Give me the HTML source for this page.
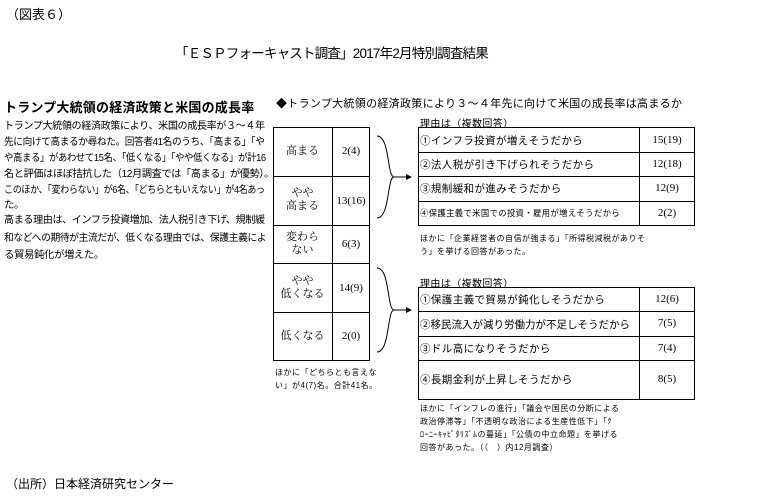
<!DOCTYPE html>
<html><head><meta charset="utf-8"><style>
*{margin:0;padding:0;box-sizing:border-box}
body{width:774px;height:502px;background:#fff;position:relative;overflow:hidden;font-family:"Liberation Sans","Noto Sans CJK JP",sans-serif;color:#000}
.a{position:absolute;white-space:nowrap}
.b{position:absolute;border:1px solid #000}
.h{position:absolute;border-top:1px solid #000}
.v{position:absolute;border-left:1px solid #000}
.c{position:absolute;text-align:center;font-size:11px;line-height:13px;font-family:"Liberation Serif","Noto Serif CJK SC",serif}
.t{position:absolute;font-size:10.5px;letter-spacing:.4px;white-space:nowrap}
.s{position:absolute;font-size:8px;line-height:13px;white-space:nowrap;letter-spacing:.5px}
.p{position:absolute;left:4px;font-size:10.4px;letter-spacing:-.4px;white-space:nowrap;transform-origin:0 0}
</style></head><body>
<div class="a" style="left:6px;top:4px;font-size:13px">（図表６）</div>
<div class="a" style="left:175px;top:42px;font-size:13.5px;letter-spacing:-.8px">「ＥＳＰフォーキャスト調査」2017年2月特別調査結果</div>
<div class="a" style="left:4px;top:97px;font-size:13px;font-weight:bold;letter-spacing:.2px">トランプ大統領の経済政策と米国の成長率</div>
<div class="p" style="top:117px;transform:scaleX(.97)">トランプ大統領の経済政策により、米国の成長率が３～４年</div>
<div class="p" style="top:133px;transform:scaleX(.93)">先に向けて高まるか尋ねた。回答者41名のうち、「高まる」「や</div>
<div class="p" style="top:149px;transform:scaleX(.9)">や高まる」があわせて15名、「低くなる」「やや低くなる」が計16</div>
<div class="p" style="top:165px;transform:scaleX(.98)">名と評価はほぼ拮抗した（12月調査では「高まる」が優勢）。</div>
<div class="p" style="top:181px;transform:scaleX(.87)">このほか、「変わらない」が6名、「どちらともいえない」が4名あっ</div>
<div class="p" style="top:196px">た。</div>
<div class="p" style="top:211px;transform:scaleX(.97)">高まる理由は、インフラ投資増加、法人税引き下げ、規制緩</div>
<div class="p" style="top:229px;transform:scaleX(.94)">和などへの期待が主流だが、低くなる理由では、保護主義によ</div>
<div class="p" style="top:246px">る貿易鈍化が増えた。</div>
<div class="a" style="left:276px;top:95px;font-size:11px;letter-spacing:.3px">◆トランプ大統領の経済政策により３～４年先に向けて米国の成長率は高まるか</div>

<!-- left table -->
<div class="b" style="left:273px;top:127px;width:97px;height:234px"></div>
<div class="v" style="left:332px;top:127px;height:234px"></div>
<div class="h" style="left:273px;top:176px;width:97px"></div>
<div class="h" style="left:273px;top:225px;width:97px"></div>
<div class="h" style="left:273px;top:263px;width:97px"></div>
<div class="h" style="left:273px;top:312px;width:97px"></div>
<div class="c" style="left:273px;top:145px;width:59px">高まる</div>
<div class="c" style="left:273px;top:187px;width:59px">やや<br>高まる</div>
<div class="c" style="left:273px;top:231px;width:59px">変わら<br>ない</div>
<div class="c" style="left:273px;top:275px;width:59px">やや<br>低くなる</div>
<div class="c" style="left:273px;top:330px;width:59px">低くなる</div>
<div class="c" style="left:332px;top:145px;width:38px">2(4)</div>
<div class="c" style="left:332px;top:195px;width:38px">13(16)</div>
<div class="c" style="left:332px;top:238px;width:38px">6(3)</div>
<div class="c" style="left:332px;top:282px;width:38px">14(9)</div>
<div class="c" style="left:332px;top:330px;width:38px">2(0)</div>
<div class="s" style="left:275px;top:366px">ほかに「どちらとも言えな<br>い」が4(7)名。合計41名。</div>

<svg class="a" style="left:370px;top:125px" width="50" height="240">
<path d="M7 11 C20 11 17 52 24 52 C17 52 20 93 7 93 M24 52 H36" fill="none" stroke="#000" stroke-width="1"/>
<path d="M36 49 L42 52 L36 55Z"/>
<path d="M7 143 C20 143 17 185 24 185 C17 185 20 227 7 227 M24 185 H36" fill="none" stroke="#000" stroke-width="1"/>
<path d="M36 182 L42 185 L36 188Z"/>
</svg>

<!-- top right -->
<div class="t" style="left:420px;top:115px;font-size:10px">理由は（複数回答）</div>
<div class="b" style="left:418px;top:127px;width:277px;height:99px"></div>
<div class="v" style="left:639px;top:127px;height:99px"></div>
<div class="h" style="left:418px;top:152px;width:277px"></div>
<div class="h" style="left:418px;top:176px;width:277px"></div>
<div class="h" style="left:418px;top:201px;width:277px"></div>
<div class="t" style="left:420px;top:133px">①インフラ投資が増えそうだから</div>
<div class="t" style="left:420px;top:157px">②法人税が引き下げられそうだから</div>
<div class="t" style="left:420px;top:181px">③規制緩和が進みそうだから</div>
<div class="t" style="left:420px;top:207px;font-size:8.3px">④保護主義で米国での投資・雇用が増えそうだから</div>
<div class="c" style="left:639px;top:134px;width:56px">15(19)</div>
<div class="c" style="left:639px;top:158px;width:56px">12(18)</div>
<div class="c" style="left:639px;top:182px;width:56px">12(9)</div>
<div class="c" style="left:639px;top:207px;width:56px">2(2)</div>
<div class="s" style="left:420px;top:232px">ほかに「企業経営者の自信が強まる」「所得税減税がありそ<br>う」を挙げる回答があった。</div>

<!-- bottom right -->
<div class="t" style="left:420px;top:275px;font-size:10px">理由は（複数回答）</div>
<div class="b" style="left:418px;top:287px;width:277px;height:113px"></div>
<div class="v" style="left:639px;top:287px;height:113px"></div>
<div class="h" style="left:418px;top:311px;width:277px"></div>
<div class="h" style="left:418px;top:336px;width:277px"></div>
<div class="h" style="left:418px;top:360px;width:277px"></div>
<div class="t" style="left:420px;top:292px">①保護主義で貿易が鈍化しそうだから</div>
<div class="t" style="left:420px;top:317px;letter-spacing:0">②移民流入が減り労働力が不足しそうだから</div>
<div class="t" style="left:420px;top:341px">③ドル高になりそうだから</div>
<div class="t" style="left:420px;top:372px">④長期金利が上昇しそうだから</div>
<div class="c" style="left:639px;top:293px;width:56px">12(6)</div>
<div class="c" style="left:639px;top:317px;width:56px">7(5)</div>
<div class="c" style="left:639px;top:342px;width:56px">7(4)</div>
<div class="c" style="left:639px;top:373px;width:56px">8(5)</div>
<div class="s" style="left:420px;top:402px">ほかに「インフレの進行」「議会や国民の分断による<br>政治停滞等」「不透明な政治による生産性低下」「ｸ<br>ﾛｰﾆｰｷｬﾋﾟﾀﾘｽﾞﾑの蔓延」「公債の中立命題」を挙げる<br>回答があった。（（　）内12月調査）</div>

<div class="a" style="left:6px;top:475px;font-size:12px">（出所）日本経済研究センター</div>
</body></html>
